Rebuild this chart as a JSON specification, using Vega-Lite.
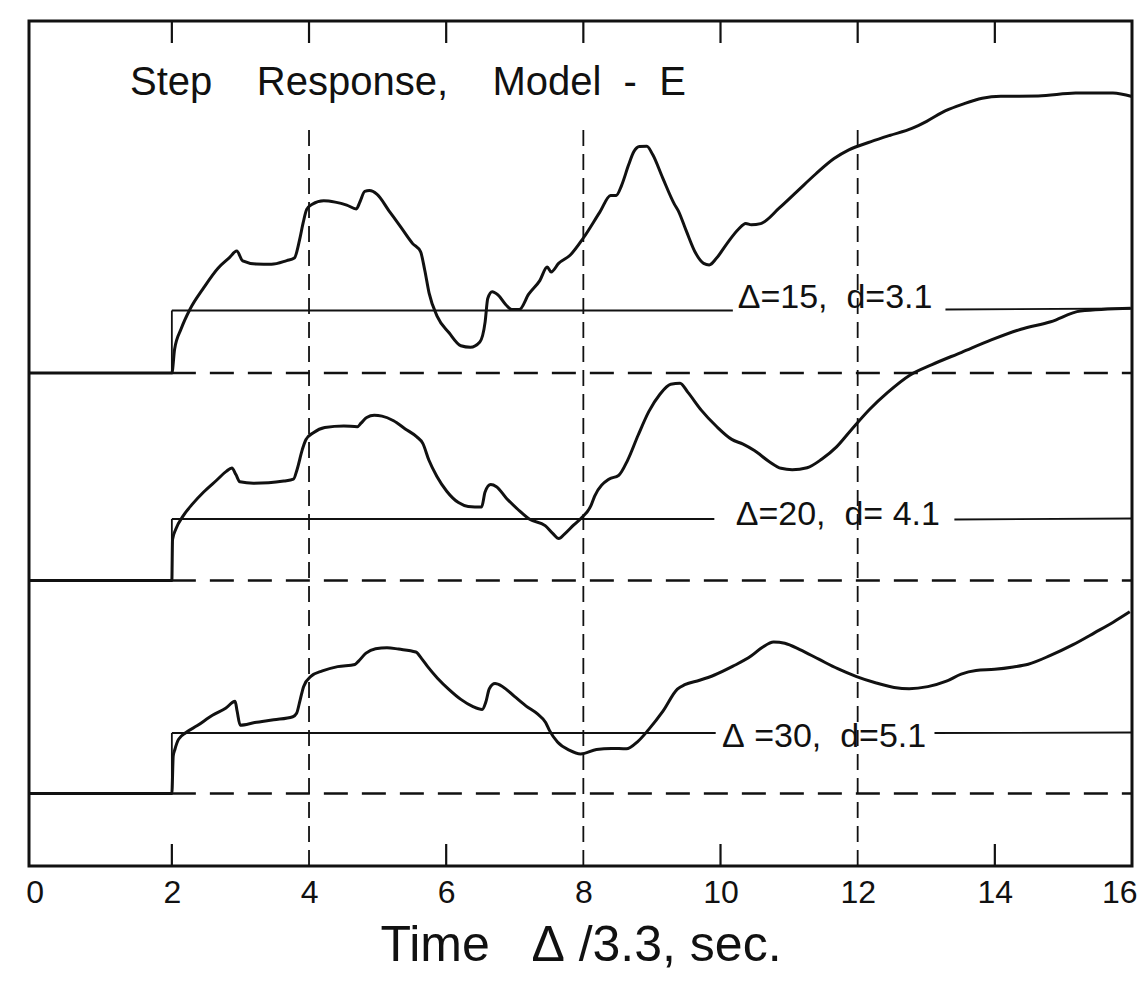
{
  "$schema": "https://vega.github.io/schema/vega-lite/v6.json",
  "width": 1103,
  "height": 845,
  "autosize": {"type": "none"},
  "padding": {"left": 29, "top": 21, "right": 14, "bottom": 117},
  "background": "white",
  "config": {"view": {"stroke": "#111", "strokeWidth": 3}, "font": "Liberation Sans"},
  "datasets": {
    "vlines": [
      {"t": 4, "t2": 4, "v": 0, "v2": 742},
      {"t": 8, "t2": 8, "v": 0, "v2": 740},
      {"t": 12, "t2": 12, "v": 0, "v2": 740}
    ],
    "baselines": [
      {"t": 2, "t2": 16, "v": 493, "v2": 493},
      {"t": 2, "t2": 16, "v": 285.5, "v2": 285.5},
      {"t": 2, "t2": 16, "v": 72.5, "v2": 72.5}
    ],
    "targets": [
      {"t": 2.0, "t2": 2.0, "v": 493, "v2": 555.5},
      {"t": 2.0, "t2": 10.18, "v": 555.5, "v2": 555.5},
      {"t": 13.28, "t2": 16, "v": 556.5, "v2": 557.5},
      {"t": 2.0, "t2": 2.0, "v": 285.5, "v2": 347},
      {"t": 2.0, "t2": 9.91, "v": 347, "v2": 347},
      {"t": 13.41, "t2": 16, "v": 346.5, "v2": 347.5},
      {"t": 2.0, "t2": 2.0, "v": 72.5, "v2": 133},
      {"t": 2.0, "t2": 9.93, "v": 133, "v2": 133},
      {"t": 13.12, "t2": 16, "v": 133, "v2": 133.5}
    ],
    "ticks": [
      {"t": 2, "t2": 2, "v": 845, "v2": 823},
      {"t": 4, "t2": 4, "v": 845, "v2": 823},
      {"t": 6, "t2": 6, "v": 845, "v2": 823},
      {"t": 8, "t2": 8, "v": 845, "v2": 823},
      {"t": 10, "t2": 10, "v": 845, "v2": 823},
      {"t": 12, "t2": 12, "v": 845, "v2": 823},
      {"t": 14, "t2": 14, "v": 845, "v2": 823},
      {"t": 2, "t2": 2, "v": 0, "v2": 22},
      {"t": 6, "t2": 6, "v": 0, "v2": 22},
      {"t": 10, "t2": 10, "v": 0, "v2": 22},
      {"t": 14, "t2": 14, "v": 0, "v2": 22}
    ],
    "curves": [
      {"s": "15", "t": -0.083, "v": 493}, {"s": "15", "t": 2.0, "v": 493}, {"s": "15", "t": 2.04, "v": 516.7},
      {"s": "15", "t": 2.134, "v": 536.9}, {"s": "15", "t": 2.267, "v": 557.1}, {"s": "15", "t": 2.456, "v": 577.4},
      {"s": "15", "t": 2.673, "v": 597.8}, {"s": "15", "t": 2.836, "v": 608.1}, {"s": "15", "t": 2.946, "v": 614.9},
      {"s": "15", "t": 3.033, "v": 605.1}, {"s": "15", "t": 3.229, "v": 602.0}, {"s": "15", "t": 3.452, "v": 601.8},
      {"s": "15", "t": 3.675, "v": 605.4}, {"s": "15", "t": 3.786, "v": 607.9}, {"s": "15", "t": 3.863, "v": 626.4},
      {"s": "15", "t": 3.914, "v": 643.1}, {"s": "15", "t": 3.966, "v": 656.6}, {"s": "15", "t": 4.047, "v": 661.8},
      {"s": "15", "t": 4.214, "v": 665.3}, {"s": "15", "t": 4.382, "v": 663.9}, {"s": "15", "t": 4.55, "v": 660.9},
      {"s": "15", "t": 4.69, "v": 657.1}, {"s": "15", "t": 4.745, "v": 664.5}, {"s": "15", "t": 4.813, "v": 674.6},
      {"s": "15", "t": 4.88, "v": 675.4}, {"s": "15", "t": 4.993, "v": 671.6}, {"s": "15", "t": 5.166, "v": 655.2},
      {"s": "15", "t": 5.339, "v": 638.8}, {"s": "15", "t": 5.511, "v": 622.4}, {"s": "15", "t": 5.626, "v": 614.3},
      {"s": "15", "t": 5.687, "v": 596.0}, {"s": "15", "t": 5.751, "v": 572.8}, {"s": "15", "t": 5.869, "v": 549.7},
      {"s": "15", "t": 6.042, "v": 533.2}, {"s": "15", "t": 6.214, "v": 520.2}, {"s": "15", "t": 6.353, "v": 518.7},
      {"s": "15", "t": 6.491, "v": 524.0}, {"s": "15", "t": 6.568, "v": 544.1}, {"s": "15", "t": 6.606, "v": 567.5},
      {"s": "15", "t": 6.671, "v": 574.3}, {"s": "15", "t": 6.755, "v": 571.1}, {"s": "15", "t": 6.87, "v": 561.3},
      {"s": "15", "t": 6.955, "v": 556.4}, {"s": "15", "t": 7.068, "v": 556.6}, {"s": "15", "t": 7.203, "v": 571.8},
      {"s": "15", "t": 7.365, "v": 585.4}, {"s": "15", "t": 7.473, "v": 598.9}, {"s": "15", "t": 7.53, "v": 594.0},
      {"s": "15", "t": 7.639, "v": 602.6}, {"s": "15", "t": 7.81, "v": 611.0}, {"s": "15", "t": 8.0, "v": 628.0},
      {"s": "15", "t": 8.238, "v": 653.6}, {"s": "15", "t": 8.398, "v": 670.4}, {"s": "15", "t": 8.479, "v": 670.6},
      {"s": "15", "t": 8.558, "v": 680.7}, {"s": "15", "t": 8.659, "v": 700.9}, {"s": "15", "t": 8.737, "v": 714.4},
      {"s": "15", "t": 8.818, "v": 719.5}, {"s": "15", "t": 8.926, "v": 719.7}, {"s": "15", "t": 9.011, "v": 711.4},
      {"s": "15", "t": 9.155, "v": 688.4}, {"s": "15", "t": 9.327, "v": 661.9}, {"s": "15", "t": 9.383, "v": 655.4},
      {"s": "15", "t": 9.498, "v": 635.6}, {"s": "15", "t": 9.641, "v": 612.4}, {"s": "15", "t": 9.754, "v": 602.6},
      {"s": "15", "t": 9.836, "v": 601.1}, {"s": "15", "t": 9.943, "v": 607.9}, {"s": "15", "t": 10.102, "v": 623.2},
      {"s": "15", "t": 10.261, "v": 636.8}, {"s": "15", "t": 10.368, "v": 642.6}, {"s": "15", "t": 10.45, "v": 641.2},
      {"s": "15", "t": 10.586, "v": 642.4}, {"s": "15", "t": 10.854, "v": 657.8}, {"s": "15", "t": 11.121, "v": 674.9},
      {"s": "15", "t": 11.388, "v": 692.0}, {"s": "15", "t": 11.656, "v": 707.4}, {"s": "15", "t": 11.871, "v": 716.1},
      {"s": "15", "t": 12.195, "v": 724.3}, {"s": "15", "t": 12.465, "v": 730.5}, {"s": "15", "t": 12.79, "v": 737.6},
      {"s": "15", "t": 13.006, "v": 744.7}, {"s": "15", "t": 13.276, "v": 755.1}, {"s": "15", "t": 13.545, "v": 762.2},
      {"s": "15", "t": 13.816, "v": 767.7}, {"s": "15", "t": 14.088, "v": 769.7}, {"s": "15", "t": 14.633, "v": 770.0},
      {"s": "15", "t": 15.178, "v": 772.9}, {"s": "15", "t": 15.722, "v": 773.1}, {"s": "15", "t": 16.0, "v": 769.5},

      {"s": "20", "t": -0.083, "v": 285.5}, {"s": "20", "t": 2.0, "v": 285.5}, {"s": "20", "t": 2.01, "v": 326.5},
      {"s": "20", "t": 2.057, "v": 336.7}, {"s": "20", "t": 2.165, "v": 350.1}, {"s": "20", "t": 2.302, "v": 362.1},
      {"s": "20", "t": 2.464, "v": 374.0}, {"s": "20", "t": 2.656, "v": 386.0}, {"s": "20", "t": 2.793, "v": 394.6},
      {"s": "20", "t": 2.875, "v": 398.0}, {"s": "20", "t": 2.934, "v": 391.4}, {"s": "20", "t": 2.992, "v": 384.2},
      {"s": "20", "t": 3.188, "v": 382.8}, {"s": "20", "t": 3.411, "v": 383.2}, {"s": "20", "t": 3.633, "v": 384.9},
      {"s": "20", "t": 3.773, "v": 386.8}, {"s": "20", "t": 3.825, "v": 396.3}, {"s": "20", "t": 3.902, "v": 416.4},
      {"s": "20", "t": 3.956, "v": 426.5}, {"s": "20", "t": 4.064, "v": 433.3}, {"s": "20", "t": 4.23, "v": 438.5},
      {"s": "20", "t": 4.508, "v": 440.0}, {"s": "20", "t": 4.704, "v": 439.3}, {"s": "20", "t": 4.758, "v": 442.8},
      {"s": "20", "t": 4.841, "v": 448.5}, {"s": "20", "t": 4.951, "v": 450.7}, {"s": "20", "t": 5.064, "v": 449.9},
      {"s": "20", "t": 5.233, "v": 445.2}, {"s": "20", "t": 5.403, "v": 437.1}, {"s": "20", "t": 5.572, "v": 429.1},
      {"s": "20", "t": 5.659, "v": 422.6}, {"s": "20", "t": 5.747, "v": 406.0}, {"s": "20", "t": 5.865, "v": 389.6},
      {"s": "20", "t": 6.008, "v": 374.8}, {"s": "20", "t": 6.179, "v": 363.4}, {"s": "20", "t": 6.32, "v": 359.6},
      {"s": "20", "t": 6.516, "v": 358.9}, {"s": "20", "t": 6.567, "v": 374.0}, {"s": "20", "t": 6.649, "v": 381.4},
      {"s": "20", "t": 6.733, "v": 379.3}, {"s": "20", "t": 6.877, "v": 367.8}, {"s": "20", "t": 7.047, "v": 356.5},
      {"s": "20", "t": 7.217, "v": 346.7}, {"s": "20", "t": 7.443, "v": 340.4}, {"s": "20", "t": 7.557, "v": 332.3},
      {"s": "20", "t": 7.642, "v": 327.4}, {"s": "20", "t": 7.725, "v": 331.9}, {"s": "20", "t": 7.861, "v": 341.1},
      {"s": "20", "t": 7.971, "v": 348.0}, {"s": "20", "t": 8.107, "v": 359.8}, {"s": "20", "t": 8.165, "v": 369.9},
      {"s": "20", "t": 8.378, "v": 387.0}, {"s": "20", "t": 8.513, "v": 390.5}, {"s": "20", "t": 8.645, "v": 405.7},
      {"s": "20", "t": 8.8, "v": 431.0}, {"s": "20", "t": 8.956, "v": 454.6}, {"s": "20", "t": 9.114, "v": 471.5},
      {"s": "20", "t": 9.274, "v": 481.8}, {"s": "20", "t": 9.41, "v": 482.7}, {"s": "20", "t": 9.522, "v": 473.9},
      {"s": "20", "t": 9.719, "v": 455.9}, {"s": "20", "t": 9.943, "v": 439.5}, {"s": "20", "t": 10.164, "v": 426.6},
      {"s": "20", "t": 10.329, "v": 421.8}, {"s": "20", "t": 10.494, "v": 415.4}, {"s": "20", "t": 10.717, "v": 404.1},
      {"s": "20", "t": 10.882, "v": 397.7}, {"s": "20", "t": 11.046, "v": 396.3}, {"s": "20", "t": 11.263, "v": 398.3},
      {"s": "20", "t": 11.479, "v": 407.0}, {"s": "20", "t": 11.692, "v": 419.1}, {"s": "20", "t": 11.905, "v": 436.0},
      {"s": "20", "t": 12.172, "v": 456.5}, {"s": "20", "t": 12.438, "v": 473.6}, {"s": "20", "t": 12.76, "v": 490.8},
      {"s": "20", "t": 13.084, "v": 501.4}, {"s": "20", "t": 13.516, "v": 513.7}, {"s": "20", "t": 13.948, "v": 526.1},
      {"s": "20", "t": 14.381, "v": 536.8}, {"s": "20", "t": 14.815, "v": 544.2}, {"s": "20", "t": 15.247, "v": 554.9},
      {"s": "20", "t": 15.981, "v": 557.7},

      {"s": "30", "t": -0.083, "v": 72.5}, {"s": "30", "t": 2.0, "v": 72.5}, {"s": "30", "t": 2.02, "v": 110.0},
      {"s": "30", "t": 2.044, "v": 116.5}, {"s": "30", "t": 2.097, "v": 126.6}, {"s": "30", "t": 2.207, "v": 133.5},
      {"s": "30", "t": 2.372, "v": 140.4}, {"s": "30", "t": 2.592, "v": 150.7}, {"s": "30", "t": 2.784, "v": 157.7},
      {"s": "30", "t": 2.922, "v": 164.7}, {"s": "30", "t": 2.952, "v": 154.7}, {"s": "30", "t": 2.996, "v": 140.8},
      {"s": "30", "t": 3.208, "v": 143.4}, {"s": "30", "t": 3.486, "v": 146.2}, {"s": "30", "t": 3.764, "v": 149.3},
      {"s": "30", "t": 3.819, "v": 152.7}, {"s": "30", "t": 3.871, "v": 166.2}, {"s": "30", "t": 3.922, "v": 179.6},
      {"s": "30", "t": 4.031, "v": 189.8}, {"s": "30", "t": 4.195, "v": 195.1}, {"s": "30", "t": 4.418, "v": 199.4},
      {"s": "30", "t": 4.669, "v": 201.5}, {"s": "30", "t": 4.723, "v": 204.9}, {"s": "30", "t": 4.831, "v": 212.8},
      {"s": "30", "t": 4.97, "v": 217.3}, {"s": "30", "t": 5.137, "v": 218.3}, {"s": "30", "t": 5.306, "v": 216.9},
      {"s": "30", "t": 5.557, "v": 214.0}, {"s": "30", "t": 5.642, "v": 207.4}, {"s": "30", "t": 5.73, "v": 199.3},
      {"s": "30", "t": 5.873, "v": 187.8}, {"s": "30", "t": 6.043, "v": 176.4}, {"s": "30", "t": 6.214, "v": 166.6},
      {"s": "30", "t": 6.384, "v": 159.6}, {"s": "30", "t": 6.525, "v": 156.5}, {"s": "30", "t": 6.578, "v": 163.9},
      {"s": "30", "t": 6.629, "v": 177.3}, {"s": "30", "t": 6.712, "v": 182.4}, {"s": "30", "t": 6.824, "v": 179.3},
      {"s": "30", "t": 6.995, "v": 169.6}, {"s": "30", "t": 7.166, "v": 159.9}, {"s": "30", "t": 7.336, "v": 151.8},
      {"s": "30", "t": 7.45, "v": 143.6}, {"s": "30", "t": 7.508, "v": 135.4}, {"s": "30", "t": 7.623, "v": 123.9},
      {"s": "30", "t": 7.794, "v": 115.9}, {"s": "30", "t": 7.961, "v": 112.1}, {"s": "30", "t": 8.192, "v": 116.5},
      {"s": "30", "t": 8.409, "v": 117.6}, {"s": "30", "t": 8.627, "v": 117.2}, {"s": "30", "t": 8.789, "v": 124.2},
      {"s": "30", "t": 8.948, "v": 136.1}, {"s": "30", "t": 9.161, "v": 154.8}, {"s": "30", "t": 9.371, "v": 176.8},
      {"s": "30", "t": 9.479, "v": 181.3}, {"s": "30", "t": 9.695, "v": 185.7}, {"s": "30", "t": 9.912, "v": 191.0},
      {"s": "30", "t": 10.182, "v": 199.8}, {"s": "30", "t": 10.45, "v": 210.2}, {"s": "30", "t": 10.612, "v": 218.8},
      {"s": "30", "t": 10.774, "v": 224.1}, {"s": "30", "t": 10.938, "v": 222.7}, {"s": "30", "t": 11.157, "v": 216.4},
      {"s": "30", "t": 11.433, "v": 206.8}, {"s": "30", "t": 11.709, "v": 197.3}, {"s": "30", "t": 11.984, "v": 189.4},
      {"s": "30", "t": 12.259, "v": 183.2}, {"s": "30", "t": 12.531, "v": 178.6}, {"s": "30", "t": 12.751, "v": 177.3},
      {"s": "30", "t": 13.023, "v": 179.4}, {"s": "30", "t": 13.294, "v": 184.8}, {"s": "30", "t": 13.509, "v": 191.9},
      {"s": "30", "t": 13.725, "v": 195.5}, {"s": "30", "t": 13.997, "v": 196.7}, {"s": "30", "t": 14.269, "v": 199.1},
      {"s": "30", "t": 14.487, "v": 201.8}, {"s": "30", "t": 14.811, "v": 210.6}, {"s": "30", "t": 15.134, "v": 221.1},
      {"s": "30", "t": 15.458, "v": 233.4}, {"s": "30", "t": 15.726, "v": 243.8}, {"s": "30", "t": 15.968, "v": 254.2}
    ],
    "labels": [
      {"t": 11.67, "v": 568, "label": "Δ=15,\u00a0\u00a0d=3.1"},
      {"t": 11.71, "v": 351, "label": "Δ=20,\u00a0\u00a0d=\u00a04.1"},
      {"t": 11.51, "v": 129, "label": "Δ\u00a0=30,\u00a0\u00a0d=5.1"}
    ],
    "title": [
      {"t": 1.39, "v": 770.8, "label": "Step\u00a0\u00a0\u00a0\u00a0Response,\u00a0\u00a0\u00a0\u00a0Model\u00a0\u00a0-\u00a0\u00a0E"}
    ]
  },
  "encoding": {
    "x": {
      "field": "t",
      "type": "quantitative",
      "scale": {"domain": [-0.083, 16], "nice": false, "zero": false},
      "axis": {
        "values": [0, 2, 4, 6, 8, 10, 12, 14, 16],
        "format": "d",
        "domain": false,
        "ticks": false,
        "grid": false,
        "labelFont": "Liberation Sans",
        "labelFontSize": 32,
        "labelColor": "#111",
        "labelPadding": 11,
        "labelFlush": true,
        "labelFlushOffset": 5,
        "labelOverlap": false,
        "title": "Time\u00a0\u00a0\u00a0Δ\u00a0/3.3,\u00a0sec.",
        "titleFont": "Liberation Sans",
        "titleFontSize": 50,
        "titleFontWeight": "normal",
        "titleColor": "#111",
        "titlePadding": 12
      }
    },
    "y": {
      "field": "v",
      "type": "quantitative",
      "scale": {"domain": [0, 845], "nice": false, "zero": false},
      "axis": null
    }
  },
  "layer": [
    {
      "data": {"name": "vlines"},
      "mark": {"type": "rule", "color": "#111", "strokeWidth": 1.8, "strokeDash": [16, 8]},
      "encoding": {"x2": {"field": "t2"}, "y2": {"field": "v2"}}
    },
    {
      "data": {"name": "baselines"},
      "mark": {"type": "rule", "color": "#111", "strokeWidth": 2.6, "strokeDash": [24, 14]},
      "encoding": {"x2": {"field": "t2"}, "y2": {"field": "v2"}}
    },
    {
      "data": {"name": "targets"},
      "mark": {"type": "rule", "color": "#111", "strokeWidth": 1.8},
      "encoding": {"x2": {"field": "t2"}, "y2": {"field": "v2"}}
    },
    {
      "data": {"name": "ticks"},
      "mark": {"type": "rule", "color": "#111", "strokeWidth": 2.2},
      "encoding": {"x2": {"field": "t2"}, "y2": {"field": "v2"}}
    },
    {
      "data": {"name": "curves"},
      "mark": {"type": "line", "color": "#111", "strokeWidth": 3, "interpolate": "monotone"},
      "encoding": {"detail": {"field": "s", "type": "nominal"}}
    },
    {
      "data": {"name": "labels"},
      "mark": {"type": "text", "font": "Liberation Sans", "fontSize": 34, "color": "#111", "align": "center", "baseline": "middle"},
      "encoding": {"text": {"field": "label"}}
    },
    {
      "data": {"name": "title"},
      "mark": {"type": "text", "font": "Liberation Sans", "fontSize": 40, "color": "#111", "align": "left", "baseline": "alphabetic"},
      "encoding": {"text": {"field": "label"}}
    }
  ]
}
